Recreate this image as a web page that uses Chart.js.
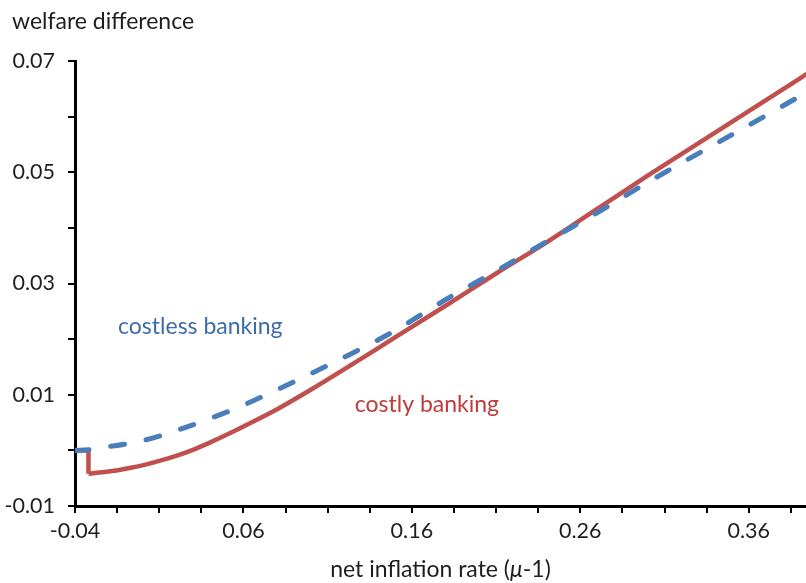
<!DOCTYPE html>
<html>
<head>
<meta charset="utf-8">
<script src="https://cdn.jsdelivr.net/npm/chart.js@4.4.1/dist/chart.umd.min.js"></script>
<style>
  html, body { margin: 0; padding: 0; background: #ffffff; }
  #wrap { width: 806px; height: 583px; position: relative; }
</style>
</head>
<body>
<div id="wrap"><canvas id="chart"></canvas></div>
<script>
// Welfare difference against the net inflation rate, two banking regimes.
const costlessInflation = [-0.04, -0.032, -0.02, -0.01, 0.0, 0.01, 0.02, 0.03, 0.04, 0.05, 0.06, 0.08, 0.10, 0.12, 0.15, 0.18, 0.21, 0.24, 0.27, 0.30, 0.33, 0.36, 0.39, 0.395];
const costlessWelfare  = [0.0, 0.0001, 0.00067, 0.00112, 0.00174, 0.00255, 0.00354, 0.00459, 0.0057, 0.00687, 0.00813, 0.01092, 0.01379, 0.01676, 0.02153, 0.0271, 0.03223, 0.03754, 0.04272, 0.04818, 0.05336, 0.05844, 0.06362, 0.06451];

// costly banking: flat start, a drop at -0.032, then a smooth rise
const costlyInflation = [-0.04, -0.032, -0.032, -0.02, -0.01, 0.0, 0.01, 0.02, 0.03, 0.04, 0.05, 0.06, 0.08, 0.10, 0.12, 0.15, 0.18, 0.21, 0.24, 0.27, 0.30, 0.33, 0.36, 0.39, 0.395];
const costlyWelfare   = [0.0, 0.0, -0.0042, -0.0038, -0.0033, -0.0027, -0.0019, -0.0010, 0.0001, 0.0014, 0.0028, 0.0043, 0.0074, 0.0109, 0.0146, 0.0203, 0.0260, 0.0318, 0.0374, 0.0434, 0.0494, 0.0552, 0.0610, 0.0668, 0.0678];
const costlyDropIndex = 2; // first point of the smooth part

const xTickValues = [-0.04, -0.015, 0.01, 0.035, 0.06, 0.085, 0.11, 0.135, 0.16, 0.185, 0.21, 0.235, 0.26, 0.285, 0.31, 0.335, 0.36, 0.385];
const xTickLabels = ['-0.04', '', '', '', '0.06', '', '', '', '0.16', '', '', '', '0.26', '', '', '', '0.36', ''];
const yTickValues = [-0.01, 0.0, 0.01, 0.02, 0.03, 0.04, 0.05, 0.06, 0.07];
const yTickLabels = ['-0.01', '', '0.01', '', '0.03', '', '0.05', '', '0.07'];

const seriesNames = ['costless banking', 'costly banking'];
const yAxisTitle = 'welfare difference';
const xAxisTitleParts = ['net inflation rate (', '\u03bc', '-1)'];

const FONT = 'Lato, "Open Sans", sans-serif';
const INK = '#1e1e1e';
const BLUE = '#4A7EBB';
const RED = '#C0504D';

const toPoints = (xs, ys) => xs.map((x, i) => ({ x: x, y: ys[i] }));
const costlyPoints = toPoints(costlyInflation, costlyWelfare);

// Free text: axis titles and the two curve labels
const textPlugin = {
  id: 'textLayer',
  afterDraw(chart) {
    const ctx = chart.ctx;
    const xs = chart.scales.x, ys = chart.scales.y;
    ctx.save();
    ctx.textBaseline = 'middle';

    ctx.fillStyle = INK;
    ctx.font = '23px ' + FONT;
    ctx.textAlign = 'left';
    ctx.fillText(yAxisTitle, 12, 22);

    // curve labels, anchored in data space
    ctx.textAlign = 'center';
    ctx.fillStyle = '#3D6CA8';
    ctx.fillText(seriesNames[0], xs.getPixelForValue(0.0344), ys.getPixelForValue(0.0223));
    ctx.fillStyle = '#BF3B3A';
    ctx.fillText(seriesNames[1], xs.getPixelForValue(0.1689), ys.getPixelForValue(0.0082));

    // x axis title with an italic mu
    const regular = '23px ' + FONT;
    const italic = 'italic 23px ' + FONT;
    ctx.textAlign = 'left';
    ctx.font = regular; const w0 = ctx.measureText(xAxisTitleParts[0]).width;
    ctx.font = italic;  const w1 = ctx.measureText(xAxisTitleParts[1]).width;
    ctx.font = regular; const w2 = ctx.measureText(xAxisTitleParts[2]).width;
    const cx = (chart.chartArea.left + chart.chartArea.right) / 2;
    let px = cx - (w0 + w1 + w2) / 2;
    const py = 570;
    ctx.fillStyle = INK;
    ctx.font = regular; ctx.fillText(xAxisTitleParts[0], px, py); px += w0;
    ctx.font = italic;  ctx.fillText(xAxisTitleParts[1], px, py); px += w1;
    ctx.font = regular; ctx.fillText(xAxisTitleParts[2], px, py);
    ctx.restore();
  }
};

new Chart(document.getElementById('chart'), {
  type: 'line',
  data: {
    datasets: [
      {
        label: seriesNames[0],
        data: toPoints(costlessInflation, costlessWelfare),
        borderColor: BLUE,
        borderWidth: 5,
        borderDash: [14, 22],
        borderCapStyle: 'round',
        pointRadius: 0,
        cubicInterpolationMode: 'monotone',
        fill: false
      },
      {
        label: seriesNames[1],
        data: costlyPoints.slice(costlyDropIndex),
        borderColor: RED,
        borderWidth: 4.5,
        borderJoinStyle: 'round',
        pointRadius: 0,
        cubicInterpolationMode: 'monotone',
        fill: false
      },
      {
        label: seriesNames[1] + ' (drop)',
        data: costlyPoints.slice(0, costlyDropIndex + 1),
        borderColor: RED,
        borderWidth: 4.5,
        borderJoinStyle: 'miter',
        pointRadius: 0,
        tension: 0,
        fill: false
      }
    ]
  },
  options: {
    responsive: true,
    maintainAspectRatio: false,
    animation: false,
    layout: { padding: { top: 61, right: 0, bottom: 0, left: 0 } },
    plugins: {
      legend: { display: false },
      tooltip: { enabled: false },
      title: { display: false }
    },
    scales: {
      x: {
        type: 'linear',
        min: -0.04,
        max: 0.394,
        afterBuildTicks(axis) { axis.ticks = xTickValues.map(v => ({ value: v })); },
        afterFit(axis) { axis.height = 77; },
        ticks: {
          autoSkip: false,
          maxRotation: 0,
          padding: 5,
          color: INK,
          font: { family: FONT, size: 21.5 },
          callback: (v, i) => xTickLabels[i]
        },
        grid: { display: true, drawOnChartArea: false, drawTicks: true, tickLength: 7, color: '#000', lineWidth: 2 },
        border: { display: true, color: '#000', width: 3 }
      },
      y: {
        type: 'linear',
        min: -0.01,
        max: 0.07,
        afterBuildTicks(axis) { axis.ticks = yTickValues.map(v => ({ value: v })); },
        afterFit(axis) { axis.width = 75; },
        ticks: {
          autoSkip: false,
          padding: 13,
          color: INK,
          font: { family: FONT, size: 21.5 },
          callback: (v, i) => yTickLabels[i]
        },
        grid: { display: true, drawOnChartArea: false, drawTicks: true, tickLength: 7, color: '#000', lineWidth: 2 },
        border: { display: true, color: '#000', width: 3 }
      }
    }
  },
  plugins: [textPlugin]
});
</script>
</body>
</html>
